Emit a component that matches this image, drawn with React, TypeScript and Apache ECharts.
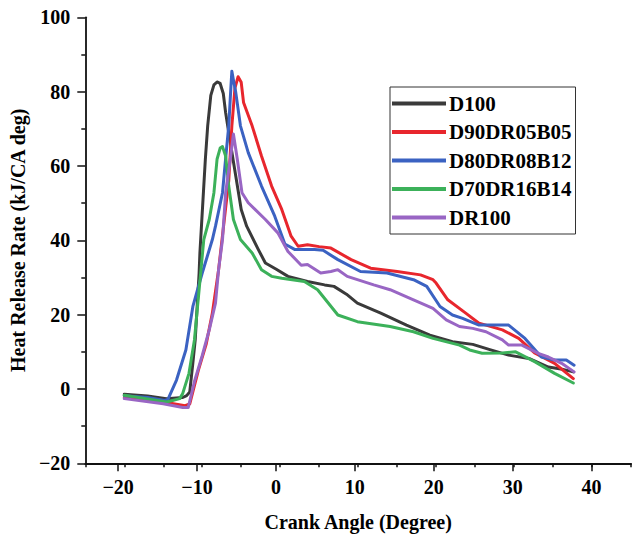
import React, { useEffect, useRef } from 'react';
import * as echarts from 'echarts';

const seriesNames = ['D100', 'D90DR05B05', 'D80DR08B12', 'D70DR16B14', 'DR100'];
const seriesColors = ['#3a3a3a', '#e8262d', '#3b62c2', '#3cb15a', '#9966c4'];

const xTicks = [-20, -10, 0, 10, 20, 30, 40];
const yTicks = [-20, 0, 20, 40, 60, 80, 100];

// [crank angle, heat release rate]
const d100 = [
    [-20, -1.4], [-17, -1.9], [-14.6, -2.6], [-12.5, -2.3], [-12, -1.8], [-11.6, -0.8], [-11.2, 7],
    [-10.9, 13.2], [-10.4, 31.2], [-10.3, 36.6], [-9.9, 51], [-9.6, 61.8], [-9.3, 70.8], [-8.9, 79],
    [-8.5, 81.8], [-8.1, 82.6], [-7.7, 82.2], [-7.3, 79.5], [-7, 74.4], [-6.4, 66.3], [-5.7, 57.3],
    [-5, 48.3], [-4.3, 43.8], [-2.8, 37.5], [-1.9, 33.9], [-0.5, 32.2], [1, 30.3], [3.5, 28.9],
    [5.7, 28], [6.9, 27.6], [8.5, 25.5], [9.9, 23.1], [12.9, 20.4], [16.2, 17.2], [19.2, 14.5],
    [22.1, 12.7], [24.7, 12], [27, 10.5], [29.3, 9.1], [31.9, 8.2], [34.4, 5.9], [36, 5.4], [37.6, 4.6],
];
const d90 = [
    [-20, -2.2], [-15, -3.5], [-12.2, -4.5], [-11.6, -4], [-10.5, 5], [-9.5, 12], [-8.7, 20.4],
    [-7.9, 32.1], [-7.2, 45], [-6.6, 56], [-6.2, 70.8], [-5.8, 81], [-5.4, 84], [-5, 82.5],
    [-4.7, 77.1], [-3.6, 70.8], [-2.4, 62.7], [-1.1, 54.6], [0.2, 48.3], [1.4, 41.1], [2.3, 38.4],
    [3.5, 38.8], [5, 38.3], [6.5, 37.9], [9.1, 34.8], [11.6, 32.5], [15, 31.6], [18, 30.7],
    [19.6, 29.4], [20, 28.5], [21.5, 24], [23.8, 20.4], [25.5, 17.7], [28.5, 15.9], [30.6, 13.6],
    [32.7, 9.6], [35.2, 6.9], [37.6, 2.8],
];
const d80 = [
    [-20, -1.8], [-17, -2.3], [-14.8, -3.1], [-14.4, -2.8], [-13.3, 2.4], [-12.1, 10.5], [-11.2, 22.2],
    [-10, 31.2], [-8.7, 40.2], [-8.3, 43.8], [-7.4, 52.8], [-7, 62], [-6.6, 70.8], [-6.3, 82],
    [-6.2, 85.5], [-5.9, 82], [-5.7, 79.8], [-5.1, 70.8], [-4.1, 63.6], [-2.4, 54.6], [-0.7, 46.5],
    [0.6, 39], [1.9, 37.5], [4.4, 37.5], [5.5, 37.3], [7.4, 34.8], [10.3, 31.6], [13.7, 31.2],
    [17.1, 29.4], [18.8, 27.6], [20.5, 22.2], [22.1, 19.9], [23.4, 19], [25.5, 17.2], [29.3, 17.2],
    [31.4, 13.6], [33.5, 8.6], [35.2, 7.8], [36.7, 7.8], [37.7, 6.4],
];
const d70 = [
    [-20, -1.7], [-14.6, -3.5], [-13.8, -3.1], [-12.9, -2.6], [-12.5, -1.2], [-11.7, 4.2], [-11, 13.2],
    [-10.6, 22.2], [-10.2, 31.2], [-9.8, 40.2], [-9.1, 45.6], [-8.5, 52.8], [-8.1, 61.8], [-7.7, 64.8],
    [-7.4, 65.2], [-7, 62.7], [-6.6, 54.6], [-6, 45.6], [-5.1, 40.2], [-3.6, 36.6], [-2.4, 32.1],
    [-1.1, 30.3], [0.2, 29.8], [3.1, 28.9], [4.8, 26.7], [7.4, 19.9], [9.9, 18.1], [14.1, 16.8],
    [17.1, 15.4], [19.6, 13.6], [23, 11.8], [24.3, 10.5], [25.9, 9.6], [28.5, 9.7], [30.2, 10],
    [32.7, 7.3], [35.2, 4.2], [37.6, 1.6],
];
const dr100 = [
    [-20, -2.6], [-15, -4], [-12.5, -5], [-11.8, -5], [-11, 2], [-10, 9], [-9.1, 15.9], [-8.3, 23.1],
    [-7.9, 32.1], [-7.4, 40.2], [-7, 52.8], [-6.4, 61.8], [-6, 68.6], [-5.5, 61.8], [-4.9, 52.8],
    [-4.1, 50.1], [-1.9, 45.6], [-0.3, 42], [1, 37], [2.7, 33.3], [3.5, 33.5], [5.2, 31.2],
    [6.5, 31.6], [7.4, 32.1], [8.6, 30.3], [12, 28], [14.1, 26.7], [17.1, 24], [19.6, 21.7],
    [21.3, 18.6], [23, 16.8], [24.7, 16.3], [26.4, 15.4], [28.5, 13.2], [29.3, 11.8], [31, 11.8],
    [33.1, 9.6], [34.4, 8.6], [36.1, 6.9], [37.7, 4.6],
];
const seriesData = [d100, d90, d80, d70, dr100];

const FONT = 'Liberation Serif';
const fmt = (v: number) => (v < 0 ? '\u2212' + Math.abs(v) : String(v));

const App: React.FC = () => {
    const chartRef = useRef<HTMLDivElement>(null);

    useEffect(() => {
        if (!chartRef.current) return;
        const chart = echarts.init(chartRef.current, undefined, { renderer: 'svg' });
        const unit = (631 - 78.7) / 70;
        const axisColor = '#111';
        chart.setOption({
            animation: false,
            backgroundColor: '#fff',
            grid: [
                { left: 78.7, right: 9, top: 17.3, bottom: 75.7 },
                { left: 78.7 + 5 * unit, right: 9 + 5 * unit, top: 17.3, bottom: 75.7 },
            ],
            legend: {
                orient: 'vertical',
                left: 390,
                top: 87,
                padding: [6, 4, 6, 2],
                itemWidth: 54,
                itemHeight: 4,
                itemGap: 7.5,
                icon: 'rect',
                backgroundColor: '#fff',
                borderColor: '#333',
                borderWidth: 1,
                textStyle: { fontFamily: FONT, fontWeight: 'bold', fontSize: 21, color: '#000', padding: [0, 0, 0, -2] },
                data: seriesNames,
            },
            xAxis: [
                {
                    type: 'value',
                    gridIndex: 0,
                    min: -25,
                    max: 45,
                    interval: 5,
                    name: 'Crank Angle (Degree)',
                    nameLocation: 'middle',
                    nameGap: 49,
                    nameTextStyle: { fontFamily: FONT, fontWeight: 'bold', fontSize: 20, color: '#000' },
                    axisLine: { onZero: false, lineStyle: { color: axisColor, width: 1.8 } },
                    axisTick: { inside: false, length: 4, lineStyle: { color: axisColor, width: 1.5 } },
                    axisLabel: { show: false },
                    splitLine: { show: false },
                },
                {
                    type: 'value',
                    gridIndex: 1,
                    min: xTicks[0],
                    max: xTicks[xTicks.length - 1],
                    interval: 10,
                    axisLine: { onZero: false, lineStyle: { color: axisColor, width: 1.8 } },
                    axisTick: { inside: false, length: 8, lineStyle: { color: axisColor, width: 1.5 } },
                    axisLabel: {
                        margin: 14,
                        fontFamily: FONT,
                        fontWeight: 'bold',
                        fontSize: 20,
                        color: '#000',
                        formatter: (v: number) => (xTicks.includes(v) ? fmt(v) : ''),
                    },
                    splitLine: { show: false },
                },
            ],
            yAxis: [
                {
                    type: 'value',
                    gridIndex: 0,
                    min: yTicks[0],
                    max: yTicks[yTicks.length - 1],
                    interval: 20,
                    name: 'Heat Release Rate (kJ/CA deg)',
                    nameLocation: 'middle',
                    nameGap: 52,
                    nameTextStyle: { fontFamily: FONT, fontWeight: 'bold', fontSize: 20, color: '#000' },
                    axisLine: { show: true, onZero: false, lineStyle: { color: axisColor, width: 1.8 } },
                    axisTick: { show: true, inside: false, length: 8, lineStyle: { color: axisColor, width: 1.5 } },
                    minorTick: { show: true, splitNumber: 2, length: 4, lineStyle: { color: axisColor, width: 1.5 } },
                    axisLabel: {
                        margin: 15,
                        fontFamily: FONT,
                        fontWeight: 'bold',
                        fontSize: 20,
                        color: '#000',
                        formatter: fmt,
                    },
                    splitLine: { show: false },
                },
                { type: 'value', gridIndex: 1, min: -20, max: 100, show: false },
            ],
            series: seriesNames.map((name, i) => ({
                name,
                type: 'line',
                xAxisIndex: 0,
                yAxisIndex: 0,
                data: seriesData[i],
                symbol: 'none',
                showSymbol: false,
                color: seriesColors[i],
                lineStyle: { width: 3, color: seriesColors[i], join: 'round', cap: 'round' },
            })),
        });
        return () => {
            chart.dispose();
        };
    }, []);

    return <div ref={chartRef} style={{ position: 'fixed', left: 0, top: 0, width: 640, height: 539 }} />;
};

export default App;
